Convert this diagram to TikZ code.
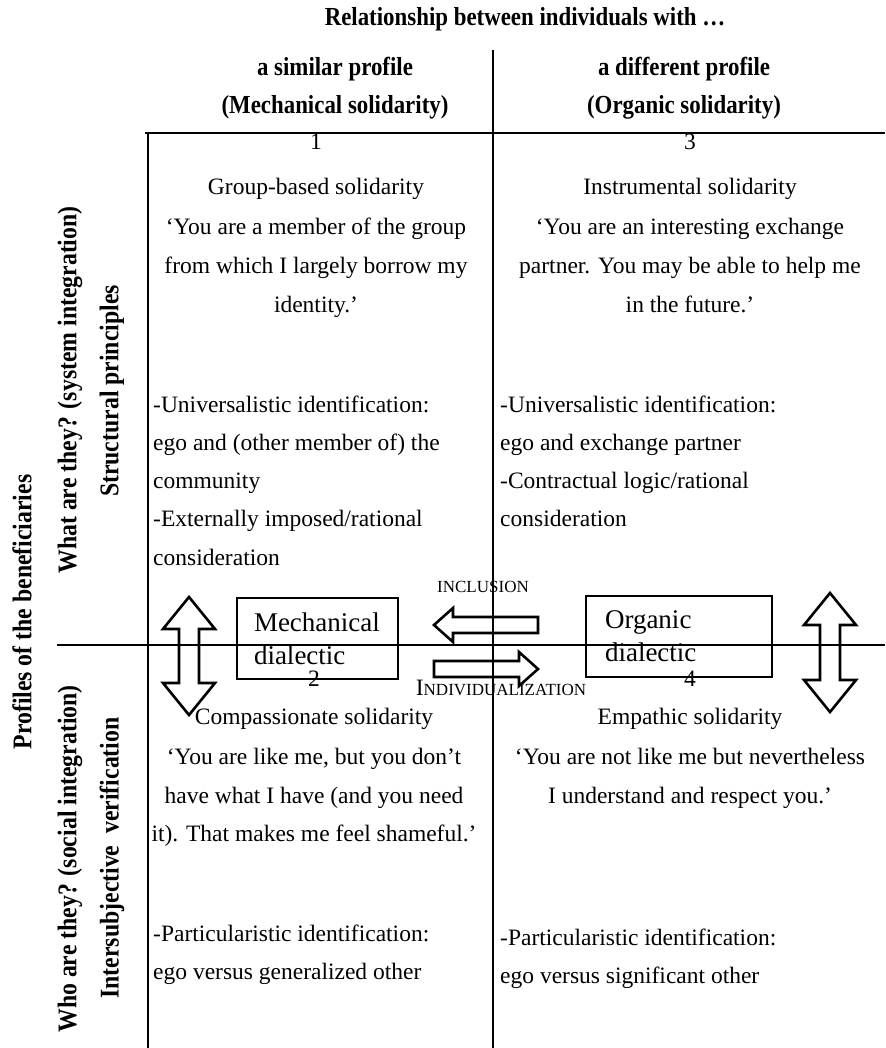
\documentclass[tikz,border=0pt]{standalone}
\usepackage{fontspec}
\setmainfont{Liberation Serif}
\newfontfamily\condbf{Liberation Serif}[FakeStretch=0.88]
\begin{document}
\begin{tikzpicture}[x=1pt,y=-1pt,
  grid/.style={line width=1.8pt},
  body/.style={font=\fontsize{23.5}{28}\selectfont, anchor=base, inner sep=0pt},
  lbody/.style={body, anchor=base west},
  head/.style={font=\fontsize{26}{30}\condbf\bfseries, anchor=base, inner sep=0pt},
  side/.style={font=\fontsize{27}{30}\condbf\bfseries, rotate=90, inner sep=0pt},
  dbox/.style={draw, line width=1.4pt, font=\fontsize{27}{33}\selectfont, align=left, inner sep=0pt},
  arr/.style={line width=2.6pt, line join=miter},
  small/.style={font=\fontsize{17}{19}\selectfont, anchor=base, inner sep=0pt}
]
\useasboundingbox (0,0) rectangle (885,1048);
% grid lines
\coordinate (vtop) at (493,50);
\coordinate (vbot) at (493,1048);
\coordinate (htl) at (145,133);
\coordinate (htr) at (885,133);
\coordinate (lvt) at (148,133);
\coordinate (lvb) at (148,1048);
\coordinate (hml) at (57,645);
\coordinate (hmr) at (885,645);
\draw[grid] (vtop) -- (vbot);
\draw[grid] (htl) -- (htr);
\draw[grid] (lvt) -- (lvb);
\draw[grid] (hml) -- (hmr);
% headers
\node[head] (title) at (525,26) {Relationship between individuals with …};
\node[head] (h1a) at (335,76) {a similar profile};
\node[head] (h1b) at (335,114) {(Mechanical solidarity)};
\node[head] (h2a) at (684,76) {a different profile};
\node[head] (h2b) at (684,114) {(Organic solidarity)};
% side labels
\node[side] (prof) at (22,612) {Profiles of the beneficiaries};
\node[side] (what) at (70,390) {What are they? (system integration)};
\node[side] (struct) at (112,391) {Structural principles};
\node[side] (who) at (70,859) {Who are they? (social integration)};
\node[side] (inter) at (112,858) {Intersubjective\ \ verification};
% cell 1
\node[body] (n1) at (316,150) {1};
\node[body] (c1a) at (316,195) {Group-based solidarity};
\node[body] (c1b) at (316,235) {‘You are a member of the group};
\node[body] (c1c) at (316,274) {from which I largely borrow my};
\node[body] (c1d) at (316,312) {identity.’};
\node[lbody] (c1e) at (153,412) {-Universalistic identification:};
\node[lbody] (c1f) at (153,450) {ego and (other member of) the};
\node[lbody] (c1g) at (153,488) {community};
\node[lbody] (c1h) at (153,526) {-Externally imposed/rational};
\node[lbody] (c1i) at (153,565) {consideration};
% cell 3
\node[body] (n3) at (690,150) {3};
\node[body] (c3a) at (690,195) {Instrumental solidarity};
\node[body] (c3b) at (690,235) {‘You are an interesting exchange};
\node[body] (c3c) at (690,274) {partner. You may be able to help me};
\node[body] (c3d) at (690,312) {in the future.’};
\node[lbody] (c3e) at (500,412) {-Universalistic identification:};
\node[lbody] (c3f) at (500,450) {ego and exchange partner};
\node[lbody] (c3g) at (500,488) {-Contractual logic/rational};
\node[lbody] (c3h) at (500,526) {consideration};
% cell 2
\node[body] (n2) at (314,686) {2};
\node[body] (c2a) at (314,724) {Compassionate solidarity};
\node[body] (c2b) at (314,764) {‘You are like me, but you don’t};
\node[body] (c2c) at (314,803) {have what I have (and you need};
\node[body] (c2d) at (314,841) {it). That makes me feel shameful.’};
\node[lbody] (c2e) at (153,941) {-Particularistic identification:};
\node[lbody] (c2f) at (153,979) {ego versus generalized other};
% cell 4
\node[body] (n4) at (690,686) {4};
\node[body] (c4a) at (690,724) {Empathic solidarity};
\node[body] (c4b) at (690,764) {‘You are not like me but nevertheless};
\node[body] (c4c) at (690,803) {I understand and respect you.’};
\node[lbody] (c4e) at (500,945) {-Particularistic identification:};
\node[lbody] (c4f) at (500,983) {ego versus significant other};
% dialectic boxes
\node[dbox, minimum width=161pt, minimum height=81pt, text width=127pt] (mech) at (317.5,638.5) {Mechanical\\dialectic};
\node[dbox, minimum width=186pt, minimum height=81pt, text width=148pt] (org) at (679,636.5) {Organic\\dialectic};
% labels
\node[small] (incl) at (483,592) {INCLUSION};
\node[small] (indiv) at (501,695) {{\fontsize{23.5}{24}\selectfont I}NDIVIDUALIZATION};
% double arrows
\draw[arr] (189,597) -- (215,629) -- (199,629) -- (199,683) -- (215,683) -- (189,715) -- (163,683) -- (179,683) -- (179,629) -- (163,629) -- cycle;
\draw[arr] (830,593) -- (856,625) -- (840,625) -- (840,680) -- (856,680) -- (830,712) -- (804,680) -- (820,680) -- (820,625) -- (804,625) -- cycle;
% inclusion / individualization arrows
\draw[arr] (434,625) -- (453,608) -- (453,617) -- (538,617) -- (538,633) -- (453,633) -- (453,642) -- cycle;
\draw[arr] (538,669) -- (519,652) -- (519,661) -- (434,661) -- (434,677) -- (519,677) -- (519,686) -- cycle;
\end{tikzpicture}
\end{document}
